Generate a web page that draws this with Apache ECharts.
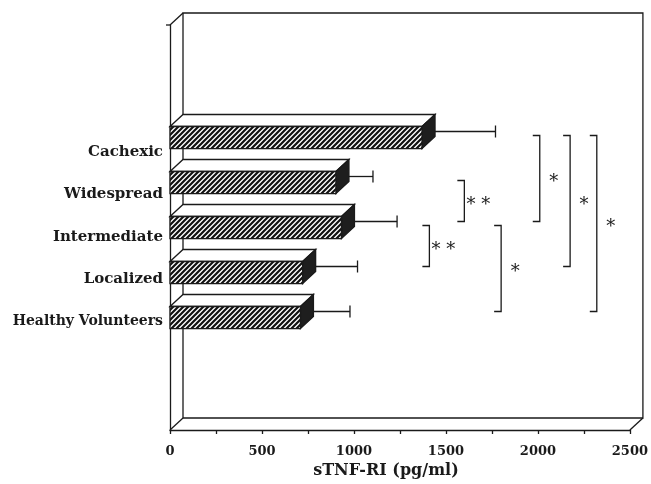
<!DOCTYPE html>
<html><head><meta charset="utf-8">
<script src="https://cdn.jsdelivr.net/npm/echarts@6/dist/echarts.min.js"></script>
<style>html,body{margin:0;padding:0;background:#fff}#c{width:651px;height:484px}</style>
</head><body><div id="c"></div>
<script>
// ---- data ----
const categories = ['Healthy Volunteers', 'Localized', 'Intermediate', 'Widespread', 'Cachexic'];
const means = [709, 721, 932, 902, 1370];
const sds = [234, 263, 267, 166, 364];
const xTickValues = [0, 500, 1000, 1500, 2000, 2500];
const xAxisTitle = 'sTNF-RI (pg/ml)';
// significance comparisons
const compFrom = ['Widespread', 'Intermediate', 'Intermediate', 'Cachexic', 'Cachexic', 'Cachexic'];
const compTo = ['Intermediate', 'Localized', 'Healthy Volunteers', 'Intermediate', 'Localized', 'Healthy Volunteers'];
const compLabels = ['* *', '* *', '*', '*', '*', '*'];
const compX = [1600, 1410, 1800, 2010, 2175, 2320];

// ---- style / layout ----
const INK = '#1a1a1a';
const DX = 13, DY = 12;          // 3-D depth offset in px
const PAD = 2;                   // empty bands above and below
const axisCats = [];
for (let i = 0; i < PAD; i++) axisCats.push('_b' + i);
categories.forEach(c => axisCats.push(c));
for (let i = 0; i < PAD; i++) axisCats.push('_t' + i);

// hatch pattern
const pc = document.createElement('canvas');
pc.width = 5; pc.height = 5;
const g = pc.getContext('2d');
g.fillStyle = '#fff'; g.fillRect(0, 0, 5, 5);
g.strokeStyle = '#111'; g.lineWidth = 2.2; g.lineCap = 'square';
g.beginPath();
g.moveTo(0, 5); g.lineTo(5, 0);
g.moveTo(-1, 1); g.lineTo(1, -1);
g.moveTo(4, 6); g.lineTo(6, 4);
g.stroke();
const hatch = { image: pc, repeat: 'repeat' };

const barData = categories.map((c, i) => [means[i], c]);
const errData = categories.map((c, i) => [means[i], c, means[i] + sds[i]]);
const compData = compLabels.map((l, i) => [compX[i], compFrom[i], compTo[i]]);

function renderFrame(params, api) {
  const cs = params.coordSys;
  const L = cs.x, R = cs.x + cs.width, T = cs.y, B = cs.y + cs.height;
  const st = { stroke: INK, lineWidth: 1.3, fill: null };
  return { type: 'group', children: [
    { type: 'polyline', shape: { points: [[L + DX, B - DY], [L + DX, T - DY], [R + DX, T - DY], [R + DX, B - DY], [L + DX, B - DY]] }, style: st },
    { type: 'line', shape: { x1: L, y1: T, x2: L + DX, y2: T - DY }, style: st },
    { type: 'line', shape: { x1: L, y1: B, x2: L + DX, y2: B - DY }, style: st },
    { type: 'line', shape: { x1: R, y1: B, x2: R + DX, y2: B - DY }, style: st },
    { type: 'line', shape: { x1: L - 4, y1: T, x2: L, y2: T }, style: st }
  ]};
}

function renderBar(params, api) {
  const v = api.value(0), yi = api.value(1);
  const p0 = api.coord([0, yi]);
  const p1 = api.coord([v, yi]);
  const band = api.size([0, 1])[1];
  const h = band * 0.49;
  const x0 = p0[0], x1 = p1[0], yt = p0[1] - h / 2, yb = p0[1] + h / 2;
  const st = { stroke: INK, lineWidth: 1.3 };
  return { type: 'group', children: [
    { type: 'polygon', shape: { points: [[x0, yt], [x0 + DX, yt - DY], [x1 + DX, yt - DY], [x1, yt]] }, style: Object.assign({ fill: '#fff' }, st) },
    { type: 'polygon', shape: { points: [[x1, yt], [x1 + DX, yt - DY], [x1 + DX, yb - DY], [x1, yb]] }, style: Object.assign({ fill: '#1e1e1e' }, st) },
    { type: 'rect', shape: { x: x0, y: yt, width: x1 - x0, height: h }, style: Object.assign({ fill: hatch }, st) }
  ]};
}

function renderErr(params, api) {
  const v = api.value(0), yi = api.value(1), e = api.value(2);
  const p1 = api.coord([v, yi]);
  const p2 = api.coord([e, yi]);
  const y = p1[1] - DY / 2;
  const xa = p1[0] + DX / 2, xb = p2[0] + DX / 2;
  const st = { stroke: INK, lineWidth: 1.3 };
  return { type: 'group', children: [
    { type: 'line', shape: { x1: xa, y1: y, x2: xb, y2: y }, style: st },
    { type: 'line', shape: { x1: xb, y1: y - 6, x2: xb, y2: y + 6 }, style: st }
  ]};
}

function renderComp(params, api) {
  const x = api.value(0), a = api.value(1), b = api.value(2);
  const pa = api.coord([x, a]);
  const pb = api.coord([x, b]);
  const xv = pa[0];
  const y1 = pa[1] - DY / 2 + 4;
  const y2 = pb[1] - DY / 2;
  const st = { stroke: INK, lineWidth: 1.3, fill: null };
  return { type: 'group', children: [
    { type: 'polyline', shape: { points: [[xv - 7, y1], [xv, y1], [xv, y2], [xv - 7, y2]] }, style: st },
    { type: 'text', x: xv + 14, y: (y1 + y2) / 2 + 4, style: { text: compLabels[params.dataIndex], fill: INK, font: '18px "DejaVu Serif"', align: 'center', verticalAlign: 'middle' } }
  ]};
}

const chart = echarts.init(document.getElementById('c'), null, { renderer: 'canvas' });
chart.setOption({
  backgroundColor: '#fff',
  animation: false,
  grid: [
    { left: 170, right: 19, top: 25, bottom: 52 },
    { left: 170, right: 19, top: 131, height: 212 }
  ],
  xAxis: [
    {
      type: 'value', gridIndex: 0, min: xTickValues[0], max: xTickValues[xTickValues.length - 1], interval: 500,
      name: xAxisTitle, nameLocation: 'middle', nameGap: 33,
      nameTextStyle: { fontFamily: 'DejaVu Serif', fontWeight: 'bold', fontSize: 16, color: INK, padding: [0, 28, 0, 0] },
      axisLine: { show: true, lineStyle: { color: INK, width: 1.3 } },
      axisTick: { show: true, length: 4, lineStyle: { color: INK, width: 1.3 } },
      minorTick: { show: true, splitNumber: 2, length: 4, lineStyle: { color: INK, width: 1.3 } },
      splitLine: { show: false },
      axisLabel: { margin: 15, fontFamily: 'DejaVu Serif', fontWeight: 'bold', fontSize: 13, color: INK, formatter: v => String(v) }
    },
    { type: 'value', gridIndex: 1, show: false, min: 0, max: 2500 }
  ],
  yAxis: [
    {
      type: 'category', gridIndex: 0, data: axisCats,
      axisLine: { show: true, lineStyle: { color: INK, width: 1.3 } },
      axisTick: { show: false }, axisLabel: { show: false }, splitLine: { show: false }
    },
    {
      type: 'category', gridIndex: 1, data: categories,
      axisLine: { show: false }, axisTick: { show: false }, splitLine: { show: false },
      axisLabel: {
        margin: 7, color: INK, fontFamily: 'DejaVu Serif', fontWeight: 'bold', fontSize: 15,
        formatter: v => v === 'Healthy Volunteers' ? '{s|' + v + '}' : v,
        rich: { s: { fontFamily: 'DejaVu Serif', fontWeight: 'bold', fontSize: 14, color: INK } }
      }
    }
  ],
  series: [
    { type: 'custom', xAxisIndex: 0, yAxisIndex: 0, renderItem: renderFrame, data: [[0, axisCats[0]]], z: 1, silent: true },
    { type: 'custom', xAxisIndex: 0, yAxisIndex: 0, renderItem: renderErr, data: errData, z: 2, encode: { x: [0, 2], y: 1 } },
    { type: 'custom', xAxisIndex: 0, yAxisIndex: 0, renderItem: renderBar, data: barData, z: 3, encode: { x: 0, y: 1 } },
    { type: 'custom', xAxisIndex: 0, yAxisIndex: 0, renderItem: renderComp, data: compData, z: 4, encode: { x: 0, y: [1, 2] } }
  ]
});
</script></body></html>
